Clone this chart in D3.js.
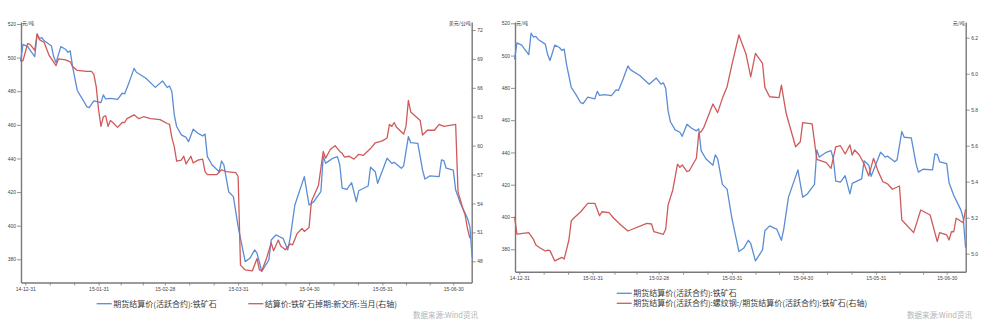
<!DOCTYPE html>
<html><head><meta charset="utf-8">
<script src="https://cdn.jsdelivr.net/npm/d3@7"></script>
<style>
html,body{margin:0;padding:0;background:#fff;}
svg{display:block;}
.tick text{font-family:"Liberation Sans",Arial,sans-serif;font-size:5px;fill:#444;}
.unit{font-family:"Noto Sans CJK SC",sans-serif;font-size:5px;fill:#333;}
.legend text{font-family:"Noto Sans CJK SC",sans-serif;font-size:8px;fill:#3a3a3a;}
.source{font-family:"Noto Sans CJK SC",sans-serif;font-size:7.5px;fill:#b4b4b4;}
</style></head><body>
<svg id="chart" width="987" height="326"></svg>
<script>
// Iron ore futures settlement price (active contract), CNY/t
const oreDates = ["2014-12-29","2014-12-30","2015-01-01","2015-01-02","2015-01-04","2015-01-05","2015-01-06","2015-01-07","2015-01-08","2015-01-11",
"2015-01-12","2015-01-13","2015-01-14","2015-01-15","2015-01-17","2015-01-18","2015-01-19","2015-01-20","2015-01-22","2015-01-24",
"2015-01-26","2015-01-27","2015-01-29","2015-02-01","2015-02-02","2015-02-03","2015-02-05","2015-02-08","2015-02-10","2015-02-11",
"2015-02-13","2015-02-15","2015-02-16","2015-02-20","2015-02-24","2015-02-27","2015-03-01","2015-03-02","2015-03-03","2015-03-04",
"2015-03-05","2015-03-07","2015-03-09","2015-03-10","2015-03-12","2015-03-14","2015-03-16","2015-03-17","2015-03-18","2015-03-20",
"2015-03-23","2015-03-24","2015-03-25","2015-03-27","2015-03-29","2015-03-31","2015-04-03","2015-04-05","2015-04-07","2015-04-08",
"2015-04-10","2015-04-13","2015-04-14","2015-04-16","2015-04-18","2015-04-19","2015-04-21","2015-04-22","2015-04-24","2015-04-28",
"2015-04-30","2015-05-02","2015-05-05","2015-05-06","2015-05-07","2015-05-08","2015-05-10","2015-05-12","2015-05-13","2015-05-14",
"2015-05-16","2015-05-18","2015-05-20","2015-05-21","2015-05-25","2015-05-26","2015-05-28","2015-05-29","2015-06-02","2015-06-04",
"2015-06-05","2015-06-08","2015-06-09","2015-06-11","2015-06-12","2015-06-15","2015-06-17","2015-06-18","2015-06-20","2015-06-24",
"2015-06-25","2015-06-26","2015-06-27","2015-06-30","2015-07-01","2015-07-03","2015-07-06","2015-07-07","2015-07-08"];
const oreSettle = [497.6,507.9,506.5,504.5,500.6,513.9,511.5,511.9,510.0,507.1,
500.6,497.0,501.6,506.5,505.0,503.2,504.0,494.6,480.3,475.8,
470.8,470.2,474.2,473.2,477.8,475.4,475.8,475.2,478.8,478.4,
485.7,493.6,491.3,487.7,482.3,486.1,482.3,483.1,479.7,465.9,
459.0,454.0,452.5,450.0,457.4,455.0,453.4,454.6,441.1,436.1,
432.1,438.5,436.1,420.2,417.3,399.4,378.6,380.6,385.6,383.6,
372.8,379.6,391.5,394.5,393.1,392.5,385.6,392.5,412.3,429.2,
412.3,414.3,420.2,441.5,437.1,438.1,440.1,441.1,436.1,422.3,
421.6,425.6,414.3,420.8,423.6,434.8,432.1,425.2,440.1,437.1,
437.7,434.2,435.5,453.0,449.4,449.0,433.1,427.8,429.6,429.2,
439.1,438.7,434.2,433.1,421.2,413.3,404.4,399.4,381.0];

// SGX iron ore swap settlement, front month, USD/t
const swapDates = ["2014-12-29","2014-12-30","2015-01-01","2015-01-02","2015-01-04","2015-01-05","2015-01-06","2015-01-08","2015-01-10","2015-01-13",
"2015-01-14","2015-01-17","2015-01-19","2015-01-20","2015-01-22","2015-01-26","2015-01-28","2015-01-29","2015-01-30","2015-01-31",
"2015-02-01","2015-02-02","2015-02-03","2015-02-04","2015-02-05","2015-02-06","2015-02-08","2015-02-10","2015-02-11","2015-02-12",
"2015-02-15","2015-02-17","2015-02-19","2015-02-22","2015-02-26","2015-03-01","2015-03-02","2015-03-03","2015-03-04","2015-03-05",
"2015-03-07","2015-03-08","2015-03-09","2015-03-11","2015-03-12","2015-03-14","2015-03-16","2015-03-17","2015-03-18","2015-03-22",
"2015-03-24","2015-03-26","2015-03-30","2015-03-31","2015-04-01","2015-04-03","2015-04-06","2015-04-08","2015-04-09","2015-04-10",
"2015-04-12","2015-04-14","2015-04-15","2015-04-17","2015-04-18","2015-04-20","2015-04-22","2015-04-23","2015-04-25","2015-04-27",
"2015-04-28","2015-04-30","2015-05-01","2015-05-04","2015-05-06","2015-05-07","2015-05-09","2015-05-11","2015-05-13","2015-05-14",
"2015-05-15","2015-05-17","2015-05-19","2015-05-21","2015-05-23","2015-05-26","2015-05-28","2015-05-31","2015-06-02","2015-06-03",
"2015-06-04","2015-06-05","2015-06-06","2015-06-09","2015-06-10","2015-06-11","2015-06-12","2015-06-16","2015-06-17","2015-06-19",
"2015-06-22","2015-06-24","2015-06-26","2015-07-01","2015-07-02","2015-07-04","2015-07-05","2015-07-06","2015-07-07"];
const swapPrice = [68.9,68.8,70.6,70.5,69.9,71.6,71.0,70.7,69.4,68.3,
69.0,68.9,68.7,68.2,67.8,67.7,67.7,67.4,66.1,63.7,
62.0,63.0,63.1,62.0,62.6,62.4,61.9,62.4,62.4,62.8,
63.2,62.8,63.0,62.8,62.7,62.3,62.2,60.8,59.9,58.4,
58.5,58.9,58.1,58.9,58.2,58.5,58.6,57.3,57.0,57.0,
57.5,57.3,57.2,56.8,47.6,47.1,47.0,48.3,47.1,47.0,
48.3,49.9,49.1,50.2,49.6,49.2,49.8,49.7,50.9,51.4,
51.1,51.5,54.2,55.9,59.4,58.7,59.6,60.0,59.4,59.2,
58.8,58.9,58.6,59.1,59.0,59.7,60.3,60.5,60.8,62.2,
62.0,62.4,61.9,61.2,62.0,64.7,63.5,62.6,61.1,61.6,
61.6,62.2,62.0,62.2,55.2,53.5,52.8,51.4,50.4];

// Rebar / iron ore futures settlement ratio
const ratioDates = ["2014-12-29","2014-12-30","2015-01-04","2015-01-06","2015-01-07","2015-01-09","2015-01-11","2015-01-12","2015-01-13","2015-01-15",
"2015-01-18","2015-01-19","2015-01-21","2015-01-22","2015-01-23","2015-01-26","2015-01-29","2015-02-01","2015-02-03","2015-02-04",
"2015-02-07","2015-02-09","2015-02-12","2015-02-15","2015-02-23","2015-02-25","2015-02-26","2015-03-02","2015-03-03","2015-03-04",
"2015-03-06","2015-03-08","2015-03-09","2015-03-10","2015-03-12","2015-03-13","2015-03-16","2015-03-17","2015-03-18","2015-03-19",
"2015-03-23","2015-03-25","2015-03-27","2015-03-29","2015-03-31","2015-04-03","2015-04-06","2015-04-08","2015-04-10","2015-04-13",
"2015-04-14","2015-04-16","2015-04-20","2015-04-21","2015-04-23","2015-04-27","2015-04-29","2015-04-30","2015-05-04","2015-05-06",
"2015-05-10","2015-05-12","2015-05-14","2015-05-16","2015-05-18","2015-05-20","2015-05-21","2015-05-22","2015-05-24","2015-05-26",
"2015-05-27","2015-05-28","2015-05-30","2015-06-01","2015-06-03","2015-06-05","2015-06-07","2015-06-10","2015-06-11","2015-06-16",
"2015-06-19","2015-06-23","2015-06-26","2015-06-27","2015-06-30","2015-07-01","2015-07-02","2015-07-03","2015-07-04","2015-07-07",
"2015-07-08"];
const ratioValues = [5.206,5.109,5.117,5.080,5.048,5.030,5.015,5.020,5.017,4.960,
4.980,4.970,5.076,5.182,5.197,5.233,5.280,5.280,5.211,5.233,
5.228,5.197,5.159,5.126,5.169,5.165,5.122,5.108,5.136,5.270,
5.354,5.497,5.480,5.493,5.456,5.461,5.530,5.669,5.678,5.697,
5.832,5.784,5.863,5.928,6.048,6.215,6.110,5.983,6.113,6.058,
5.924,5.872,5.867,5.937,5.780,5.594,5.622,5.728,5.721,5.524,
5.506,5.474,5.594,5.600,5.554,5.604,5.548,5.576,5.548,5.500,
5.465,5.432,5.530,5.456,5.400,5.387,5.358,5.376,5.187,5.117,
5.243,5.215,5.067,5.117,5.104,5.076,5.122,5.122,5.197,5.172,
5.247];

const monthEnds = ["2014-12-31","2015-01-31","2015-02-28","2015-03-31","2015-04-30","2015-05-31","2015-06-30"];
const cnyTicks = [380,400,420,440,460,480,500,520];
const usdTicks = [48,51,54,57,60,63,66,69,72];
const ratioTicks = [5.0,5.2,5.4,5.6,5.8,6.0,6.2];

const legendLeft = ["期货结算价(活跃合约):铁矿石", "结算价:铁矿石掉期:新交所:当月(右轴)"];
const legendRight = ["期货结算价(活跃合约):铁矿石", "期货结算价(活跃合约):螺纹钢:/期货结算价(活跃合约):铁矿石(右轴)"];
const sourceText = "数据来源:Wind资讯";

const BLUE = "#5a8dd5", RED = "#cf5a5b", AXIS = "#7a7a7a";
const parse = d3.timeParse("%Y-%m-%d");
const fmt = d3.timeFormat("%y-%m-%d");
const zip = (ds, vs) => ds.map((d, i) => ({date: parse(d), v: vs[i]}));

const svg = d3.select("#chart");

// stretch a scale so that its domain covers the pixel span [r0, r1]
function stretch(s, r0, r1) {
  return s.copy().domain([s.invert(r0), s.invert(r1)]).range([r0, r1]);
}

// major ticks at month ends, two unlabelled ticks between each pair
const majors = monthEnds.map(parse);
const allTicks = [];
majors.forEach((m, i) => {
  allTicks.push(m);
  if (i < majors.length - 1) {
    const n = majors[i + 1];
    allTicks.push(new Date(+m + (n - m) / 3), new Date(+m + 2 * (n - m) / 3));
  }
});
const majorSet = new Set(majors.map(d => +d));

function panel(cfg) {
  const g = svg.append("g");
  const x = stretch(d3.scaleTime().domain([majors[0], majors[majors.length - 1]]).range(cfg.xAnchors), cfg.left, cfg.right);
  const yL = stretch(d3.scaleLinear().domain(cfg.yLDom).range(cfg.yLRange), cfg.bottom, cfg.top);
  const yR = stretch(d3.scaleLinear().domain(cfg.yRDom).range(cfg.yRRange), cfg.bottom, cfg.top);

  const styleAxis = sel => {
    sel.select(".domain").attr("stroke", AXIS).attr("stroke-width", 1.4);
    sel.selectAll(".tick line").attr("stroke", AXIS).attr("stroke-width", 0.8);
  };

  g.append("g").attr("transform", `translate(0,${cfg.bottom})`)
    .call(d3.axisBottom(x).tickValues(allTicks).tickSize(3).tickSizeOuter(0).tickPadding(2)
      .tickFormat(d => majorSet.has(+d) ? fmt(d) : ""))
    .call(styleAxis);

  g.append("g").attr("transform", `translate(${cfg.left},0)`)
    .call(d3.axisLeft(yL).tickValues(cnyTicks).tickSize(4).tickSizeOuter(0).tickPadding(1).tickFormat(d3.format("d")))
    .call(styleAxis);

  g.append("g").attr("transform", `translate(${cfg.right},0)`)
    .call(d3.axisRight(yR).tickValues(cfg.yRTicks).tickSize(4).tickSizeOuter(0).tickPadding(1.5).tickFormat(cfg.yRFmt))
    .call(styleAxis);

  g.append("text").attr("class", "unit").attr("x", cfg.left + 1).attr("y", cfg.top + 2.5).text("元/吨");
  g.append("text").attr("class", "unit").attr("x", cfg.right - 1).attr("y", cfg.top + 2.5)
    .attr("text-anchor", "end").text(cfg.rightUnit);

  const lineL = d3.line().x(d => x(d.date)).y(d => yL(d.v));
  const lineR = d3.line().x(d => x(d.date)).y(d => yR(d.v));
  g.append("path").datum(cfg.left_series).attr("d", lineL)
    .attr("fill", "none").attr("stroke", BLUE).attr("stroke-width", 1.3).attr("stroke-linejoin", "round");
  g.append("path").datum(cfg.right_series).attr("d", lineR)
    .attr("fill", "none").attr("stroke", RED).attr("stroke-width", 1.3).attr("stroke-linejoin", "round");

  const lg = g.append("g").attr("class", "legend");
  cfg.legend.forEach((item, i) => {
    const p = cfg.legendPos[i];
    lg.append("line").attr("x1", p[0]).attr("x2", p[0] + 15).attr("y1", p[1]).attr("y2", p[1])
      .attr("stroke", i === 0 ? BLUE : RED).attr("stroke-width", 1.3);
    lg.append("text").attr("x", p[0] + 16.5).attr("y", p[1] + 2.8).text(item);
  });

  g.append("text").attr("class", "source").attr("x", cfg.sourceX).attr("y", 318).text(sourceText);
}

panel({
  left: 21, right: 471.7, top: 22, bottom: 282.5,
  xAnchors: [25.3, 453.3],
  yLDom: [380, 520], yLRange: [259.3, 24],
  yRDom: [48, 72], yRRange: [261.3, 30], yRTicks: usdTicks, yRFmt: d3.format("d"),
  rightUnit: "美元/公吨",
  left_series: zip(oreDates, oreSettle),
  right_series: zip(swapDates, swapPrice),
  legend: legendLeft, legendPos: [[96.7, 303.7], [248.3, 303.7]],
  sourceX: 413
});

panel({
  left: 515, right: 965.7, top: 22, bottom: 271.7,
  xAnchors: [519.3, 946.7],
  yLDom: [380, 520], yLRange: [249.3, 23.3],
  yRDom: [5.0, 6.2], yRRange: [253.7, 37.7], yRTicks: ratioTicks, yRFmt: d3.format(".1f"),
  rightUnit: "元/吨",
  left_series: zip(oreDates, oreSettle),
  right_series: zip(ratioDates, ratioValues),
  legend: legendRight, legendPos: [[616.7, 293.3], [616.7, 303.3]],
  sourceX: 907
});
</script>
</body></html>
